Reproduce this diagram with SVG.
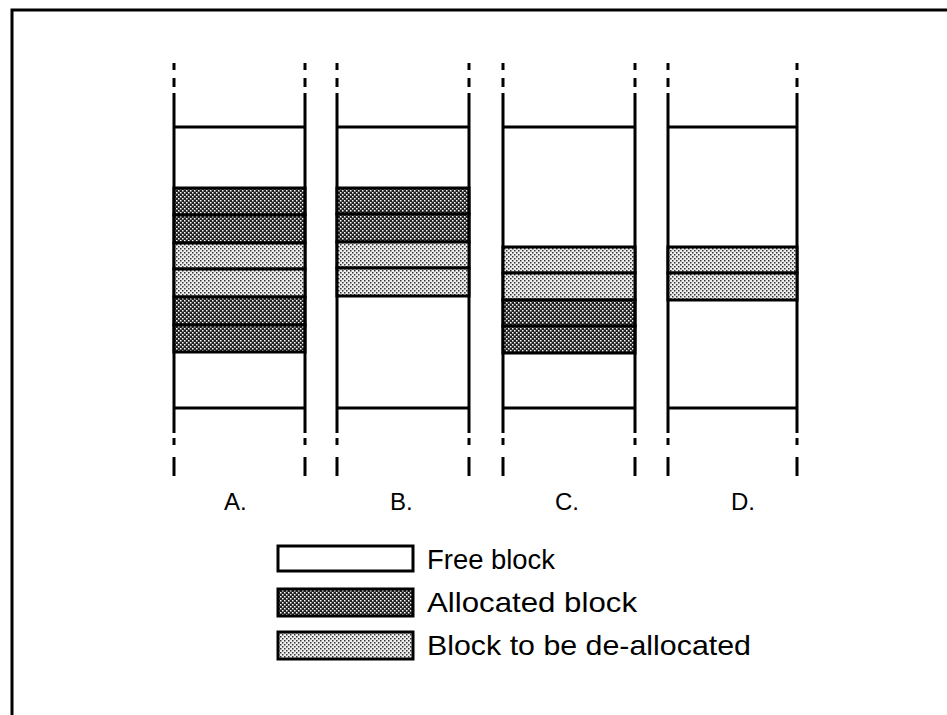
<svg xmlns="http://www.w3.org/2000/svg" width="947" height="715" viewBox="0 0 947 715">
<style>
.ln{stroke:#000;stroke-width:3;fill:none}
.blk{stroke:#000;stroke-width:3}
.alloc{fill:url(#pAlloc)}
.dealloc{fill:url(#pDealloc)}
.free{fill:#fff}
.lbl{font-family:"Liberation Sans",Arial,sans-serif;font-size:24px;fill:#000}
.leg{font-family:"Liberation Sans",Arial,sans-serif;font-size:28px;fill:#000}
</style>
<defs>
<pattern id="pAlloc" width="4" height="4" patternUnits="userSpaceOnUse">
<rect width="4" height="4" fill="#222"/>
<rect x="0" y="0" width="1.5" height="1.5" fill="#fff"/>
<rect x="2" y="2" width="1.5" height="1.5" fill="#fff"/>
</pattern>
<pattern id="pDealloc" width="4" height="4" patternUnits="userSpaceOnUse">
<rect width="4" height="4" fill="#eee"/>
<rect x="0" y="0" width="1.5" height="1.5" fill="#333"/>
<rect x="2" y="2" width="1.5" height="1.5" fill="#333"/>
</pattern>
</defs>
<rect width="947" height="715" fill="#fff"/>
<path class="ln" d="M12,715 V10 H947" stroke-width="2"/>

<g id="colA">
<path class="ln" d="M174,63V70M174,78V87M174,93V433M174,438V445M174,457V476M305,63V70M305,78V87M305,93V433M305,438V445M305,457V476M174,127H305M174,408H305"/>
<rect class="blk alloc" x="174" y="188" width="131" height="27"/>
<rect class="blk alloc" x="174" y="215" width="131" height="28"/>
<rect class="blk dealloc" x="174" y="243" width="131" height="26"/>
<rect class="blk dealloc" x="174" y="269" width="131" height="28"/>
<rect class="blk alloc" x="174" y="297" width="131" height="28"/>
<rect class="blk alloc" x="174" y="325" width="131" height="27"/>
<text class="lbl" x="224" y="510">A.</text>
</g>

<g id="colB">
<path class="ln" d="M337,63V70M337,78V87M337,93V433M337,438V445M337,457V476M469,63V70M469,78V87M469,93V433M469,438V445M469,457V476M337,127H469M337,408H469"/>
<rect class="blk alloc" x="337" y="188" width="132" height="26"/>
<rect class="blk alloc" x="337" y="214" width="132" height="28"/>
<rect class="blk dealloc" x="337" y="242" width="132" height="26"/>
<rect class="blk dealloc" x="337" y="268" width="132" height="28"/>
<text class="lbl" x="390" y="510">B.</text>
</g>

<g id="colC">
<path class="ln" d="M503,63V70M503,78V87M503,93V433M503,438V445M503,457V476M635,63V70M635,78V87M635,93V433M635,438V445M635,457V476M503,127H635M503,408H635"/>
<rect class="blk dealloc" x="503" y="247" width="132" height="26"/>
<rect class="blk dealloc" x="503" y="273" width="132" height="27"/>
<rect class="blk alloc" x="503" y="300" width="132" height="26"/>
<rect class="blk alloc" x="503" y="326" width="132" height="27"/>
<text class="lbl" x="555" y="510">C.</text>
</g>

<g id="colD">
<path class="ln" d="M668,63V70M668,78V87M668,93V433M668,438V445M668,457V476M797,63V70M797,78V87M797,93V433M797,438V445M797,457V476M668,127H797M668,408H797"/>
<rect class="blk dealloc" x="668" y="247" width="129" height="26"/>
<rect class="blk dealloc" x="668" y="273" width="129" height="27"/>
<text class="lbl" x="731" y="510">D.</text>
</g>

<g id="legend-free">
<rect class="blk free" x="278" y="546" width="135" height="25"/>
<text class="leg" x="427" y="569" textLength="128" lengthAdjust="spacingAndGlyphs">Free block</text>
</g>
<g id="legend-alloc">
<rect class="blk alloc" x="278" y="589" width="135" height="27"/>
<text class="leg" x="427" y="612" textLength="210" lengthAdjust="spacingAndGlyphs">Allocated block</text>
</g>
<g id="legend-dealloc">
<rect class="blk dealloc" x="278" y="632" width="135" height="27"/>
<text class="leg" x="427" y="655" textLength="324" lengthAdjust="spacingAndGlyphs">Block to be de-allocated</text>
</g>
<g id="connectors"/>
</svg>
